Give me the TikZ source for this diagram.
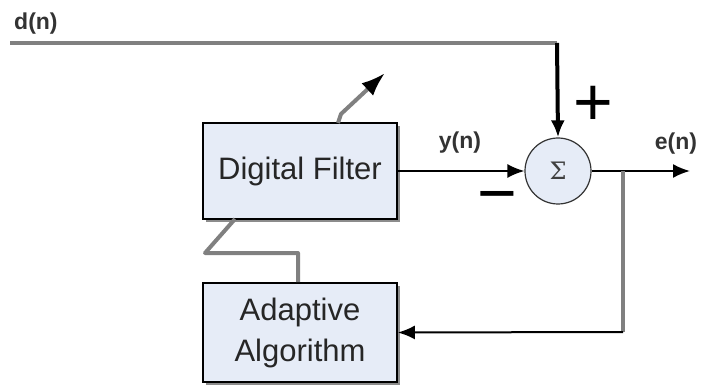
\documentclass[tikz,border=0pt]{standalone}
\usepackage{fontspec}
\setmainfont{Liberation Sans}
\newfontfamily\sigmafont{DejaVu Serif}
\usetikzlibrary{arrows.meta,shadows}
\definecolor{boxfill}{RGB}{230,236,247}
\definecolor{wire}{RGB}{128,128,128}
\definecolor{shade}{RGB}{140,140,140}
\tikzset{
  block/.style={draw=black, line width=1.6pt, fill=boxfill,
    minimum width=194pt, inner sep=0pt, align=center,
    font=\fontsize{31}{41}\selectfont, text=black!85,
    drop shadow={shadow xshift=2.5pt, shadow yshift=-3pt, fill=shade, opacity=1}},
  summer/.style={circle, draw=black!80, line width=1.2pt, fill=boxfill,
    minimum size=66pt, inner sep=0pt, text=black!75,
    font=\sigmafont\fontsize{24}{24}\selectfont},
  greywire/.style={draw=wire, line width=4pt},
  sigwire/.style={draw=black, line width=2pt},
  tip/.style={-{Latex[length=17pt,width=14pt]}},
  siglabel/.style={font=\bfseries\fontsize{23}{23}\selectfont, text=black!80, inner sep=0pt},
  signmark/.style={font=\fontsize{68}{68}\selectfont, inner sep=0pt}
}
\begin{document}
\begin{tikzpicture}[x=1pt,y=-1pt]
\useasboundingbox (0,0) rectangle (703,387);

% blocks and summing junction
\node[block, minimum height=96pt] (filter) at (300,171) {Digital Filter};
\node[block, minimum height=99pt] (adapt) at (300,332.5) {Adaptive\\Algorithm};
\node[summer] (sum) at (558,171) {Σ};

% desired signal d(n)
\coordinate (dstart) at (10,43);
\coordinate (dcorner) at (557,43);
\node[siglabel, anchor=south west] (dlab) at (14,34) {d(n)};
\draw[greywire] (dstart) -- (dcorner);
\draw[black, line width=4pt, tip] (dcorner) -- (sum.north);
\node[signmark] (plus) at (593,106) {+};

% filter output y(n)
\draw[sigwire, tip] (filter.east) -- (sum.west);
\node[siglabel] (ylab) at (460,143) {y(n)};
\node[signmark] (minus) at (497,204) {−};

% error output e(n)
\coordinate (eout) at (690,171);
\coordinate (ebranch) at (623,171);
\draw[sigwire, tip] (sum.east) -- (eout);
\node[siglabel] (elab) at (676,144) {e(n)};

% error fed back to the adaptive algorithm
\coordinate (fbcorner) at (623,332);
\draw[greywire] (ebranch) -- (fbcorner);
\draw[sigwire, tip] (fbcorner) -- (adapt.east);

% coefficient update link
\coordinate (u1) at (298,253);
\coordinate (u2) at (205,253);
\coordinate (u3) at (235,219);
\draw[greywire, line join=round] (adapt.north -| u1) -- (u1) -- (u2) -- (u3);

% adjustable-filter arrow
\coordinate (a0) at (338,123);
\coordinate (a1) at (341,114);
\coordinate (a2) at (385,73);
\draw[draw=wire, line width=4pt, line join=round,
      -{Latex[length=24pt,width=17pt,fill=black,color=black]}] (a0) -- (a1) -- (a2);
\end{tikzpicture}
\end{document}
